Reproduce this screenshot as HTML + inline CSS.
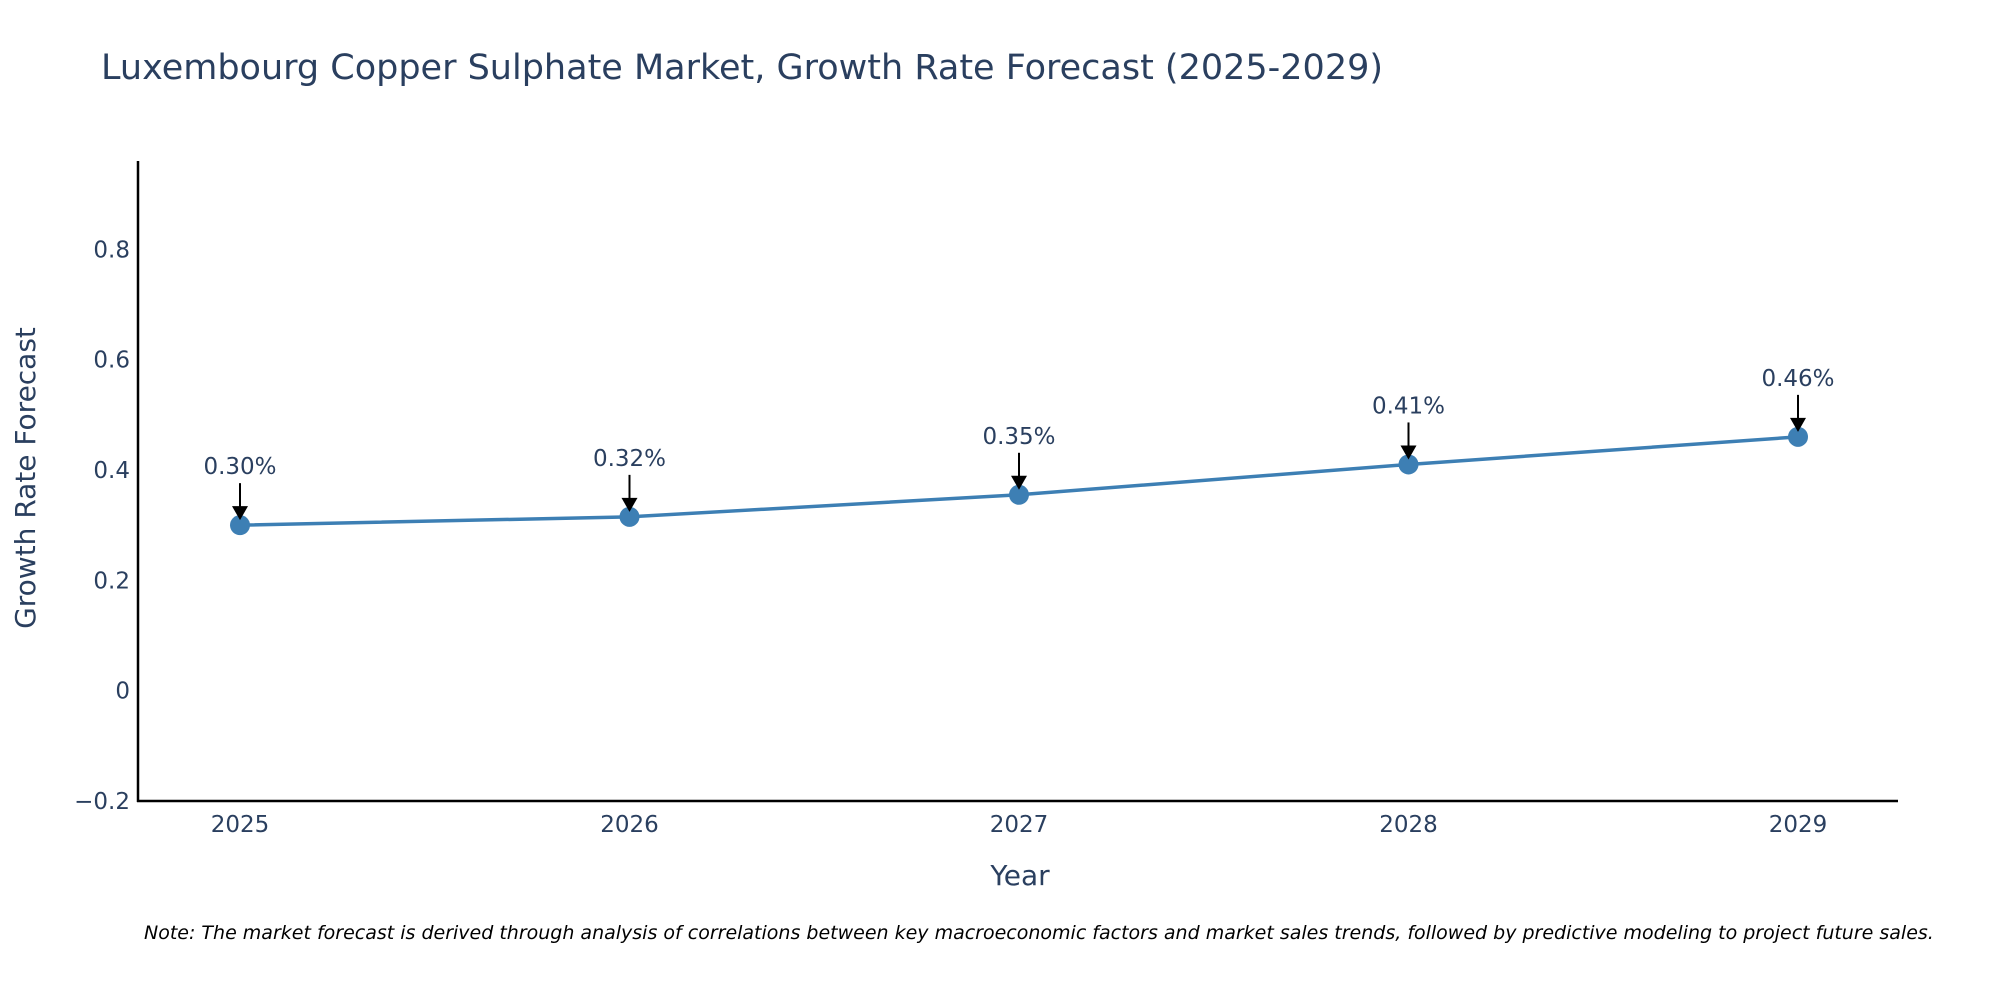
<!DOCTYPE html>
<html><head><meta charset="utf-8"><style>
html,body{margin:0;padding:0;background:#fff;overflow:hidden;}
svg{display:block;font-family:"DejaVu Sans","Liberation Sans",sans-serif;}
</style></head><body>
<svg id="chart" width="2000" height="1000" viewBox="0 0 2000 1000">
<text x="101" y="79" font-size="35" fill="#2a3f5f">Luxembourg Copper Sulphate Market, Growth Rate Forecast (2025-2029)</text>
<g id="yticks"></g>
<g id="xticks"></g>
<line x1="138" y1="161" x2="138" y2="802" stroke="#000" stroke-width="2.5"/>
<line x1="137" y1="801" x2="1898" y2="801" stroke="#000" stroke-width="2.5"/>
<g id="series"></g>
<g id="annots"></g>
<text x="1020" y="885" font-size="28" fill="#2a3f5f" text-anchor="middle">Year</text>
<text transform="translate(35,478) rotate(-90)" font-size="28" fill="#2a3f5f" text-anchor="middle">Growth Rate Forecast</text>
<text x="144" y="939" font-size="19" font-style="italic" fill="#000">Note: The market forecast is derived through analysis of correlations between key macroeconomic factors and market sales trends, followed by predictive modeling to project future sales.</text>
</svg>
<script>
const years = [2025, 2026, 2027, 2028, 2029];
const growth = [0.30, 0.315, 0.355, 0.41, 0.46];
const labels = ["0.30%", "0.32%", "0.35%", "0.41%", "0.46%"];
const yTicks = [-0.2, 0, 0.2, 0.4, 0.6, 0.8];
const yTickLabels = ["\u22120.2", "0", "0.2", "0.4", "0.6", "0.8"];

const NS = "http://www.w3.org/2000/svg";
const yMin = -0.2, yMax = 0.96, yTop = 161, yBot = 801;
function yS(v){ return yBot - (v - yMin) / (yMax - yMin) * (yBot - yTop); }
function xS(yr){ return 240 + (yr - 2025) * 389.5; }
function mk(tag, attrs, parent){ const e = document.createElementNS(NS, tag); for (const k in attrs) e.setAttribute(k, attrs[k]); parent.appendChild(e); return e; }

const yt = document.getElementById('yticks');
yTicks.forEach((v, i) => {
  const t = mk('text', {x: 130, y: yS(v) + 8, 'font-size': 23, fill: '#2a3f5f', 'text-anchor': 'end'}, yt);
  t.textContent = yTickLabels[i];
  
  
});
const xt = document.getElementById('xticks');
years.forEach(yr => {
  const t = mk('text', {x: xS(yr), y: 832, 'font-size': 23, fill: '#2a3f5f', 'text-anchor': 'middle'}, xt);
  t.textContent = yr;
  
  
});

const s = document.getElementById('series');
const pts = years.map((yr, i) => xS(yr) + ',' + yS(growth[i])).join(' ');
const pl = mk('polyline', {points: pts, fill: 'none', stroke: '#3d7fb4', 'stroke-width': 3.5}, s);


years.forEach((yr, i) => {
  const c = mk('circle', {cx: xS(yr), cy: yS(growth[i]), r: 10, fill: '#3d7fb4'}, s);
  
  
});

const a = document.getElementById('annots');
years.forEach((yr, i) => {
  const x = xS(yr), y = yS(growth[i]);
  const l = mk('line', {x1: x, y1: y - 42, x2: x, y2: y - 16, stroke: '#000', 'stroke-width': 2}, a);
  
  
  const h = mk('polygon', {points: (x-8)+','+(y-19)+' '+(x+8)+','+(y-19)+' '+x+','+(y-5), fill: '#000'}, a);
  
  
  const t = mk('text', {x: x, y: y - 51, 'font-size': 23, fill: '#2a3f5f', 'text-anchor': 'middle'}, a);
  t.textContent = labels[i];
  
  
});
</script>
</body></html>
